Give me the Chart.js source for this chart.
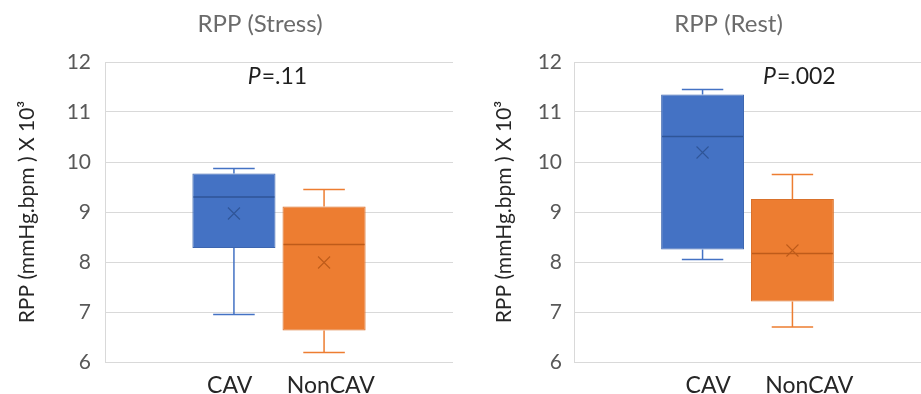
<!DOCTYPE html>
<html>
<head>
<meta charset="utf-8">
<script src="https://cdn.jsdelivr.net/npm/chart.js@4/dist/chart.umd.min.js"></script>
<style>
  html, body { margin: 0; padding: 0; background: #fff; width: 921px; height: 394px; overflow: hidden; }
  .panel { position: absolute; top: 0; height: 394px; }
  #p1 { left: 0; width: 460px; }
  #p2 { left: 460px; width: 461px; }
</style>
</head>
<body>
<div class="panel" id="p1"><canvas id="stress"></canvas></div>
<div class="panel" id="p2"><canvas id="rest"></canvas></div>
<script>
// Groups and axis ticks
const groups = ['CAV', 'NonCAV'];
const yTickValues = [6, 7, 8, 9, 10, 11, 12];
const yTitle = 'RPP (mmHg.bpm ) X 10\u00B3';
const panelTitles = ['RPP (Stress)', 'RPP (Rest)'];
const pValues = ['.11', '.002'];

// Rate-pressure product (x10^3), stress: [CAV, NonCAV]
const stressMin    = [6.95, 6.19];
const stressQ1     = [8.28, 6.63];
const stressMedian = [9.30, 8.35];
const stressQ3     = [9.77, 9.11];
const stressMax    = [9.87, 9.45];
const stressMean   = [8.97, 7.99];

// Rate-pressure product (x10^3), rest: [CAV, NonCAV]
const restMin    = [8.05, 6.70];
const restQ1     = [8.25, 7.21];
const restMedian = [10.51, 8.17];
const restQ3     = [11.35, 9.26];
const restMax    = [11.45, 9.75];
const restMean   = [10.19, 8.23];

const FONT = 'Lato, "Open Sans", sans-serif';
const fills   = ['#4472C4', '#ED7D31'];
const borders = ['#3D66B0', '#D9712B'];
const darks   = ['#2F5597', '#BE5B1A'];

// Whiskers, medians and mean markers on top of the floating-bar boxes
const boxExtras = {
  id: 'boxExtras',
  afterDatasetsDraw(chart, args, opts) {
    const ctx = chart.ctx;
    const y = chart.scales.y;
    const s = opts.stats;
    chart.data.datasets.forEach((ds, i) => {
      const bar = chart.getDatasetMeta(i).data[0];
      const cx = bar.x, w = bar.width;
      const left = cx - w / 2, right = cx + w / 2;
      const cap = w / 4;
      ctx.save();
      ctx.lineWidth = 1.5;
      ctx.strokeStyle = fills[i];
      ctx.beginPath();
      // upper whisker
      ctx.moveTo(cx, y.getPixelForValue(s.q3[i]));
      ctx.lineTo(cx, y.getPixelForValue(s.max[i]));
      ctx.moveTo(cx - cap, y.getPixelForValue(s.max[i]));
      ctx.lineTo(cx + cap, y.getPixelForValue(s.max[i]));
      // lower whisker
      ctx.moveTo(cx, y.getPixelForValue(s.q1[i]));
      ctx.lineTo(cx, y.getPixelForValue(s.min[i]));
      ctx.moveTo(cx - cap, y.getPixelForValue(s.min[i]));
      ctx.lineTo(cx + cap, y.getPixelForValue(s.min[i]));
      ctx.stroke();
      // median
      ctx.strokeStyle = darks[i];
      ctx.lineWidth = 1.5;
      ctx.beginPath();
      const my = y.getPixelForValue(s.median[i]);
      ctx.moveTo(left + 1, my);
      ctx.lineTo(right - 1, my);
      ctx.stroke();
      // mean marker
      const ey = y.getPixelForValue(s.mean[i]);
      const r = 6;
      ctx.lineWidth = 1.1;
      ctx.beginPath();
      ctx.moveTo(cx - r, ey - r); ctx.lineTo(cx + r, ey + r);
      ctx.moveTo(cx - r, ey + r); ctx.lineTo(cx + r, ey - r);
      ctx.stroke();
      ctx.restore();
    });
  }
};

// Panel heading and P value annotation
const panelText = {
  id: 'panelText',
  afterDraw(chart, args, opts) {
    const ctx = chart.ctx;
    const ca = chart.chartArea;
    ctx.save();
    ctx.textBaseline = 'middle';
    ctx.textAlign = 'center';
    ctx.fillStyle = '#6b6b6b';
    ctx.font = '24px ' + FONT;
    ctx.fillText(opts.title, (ca.left + ca.right) / 2 + opts.titleDx, opts.titleY);

    // P value: italic P followed by the value
    const pFont = 'italic 23px ' + FONT;
    const vFont = '23px ' + FONT;
    const rest = '=' + opts.p;
    ctx.font = pFont; const wP = ctx.measureText('P').width;
    ctx.font = vFont; const wR = ctx.measureText(rest).width;
    const cx = ca.left + (ca.right - ca.left) * opts.pX;
    const py = ca.top + (ca.bottom - ca.top) * opts.pY;
    const x0 = cx - (wP + wR) / 2;
    ctx.textAlign = 'left';
    ctx.fillStyle = '#1f1f1f';
    ctx.font = pFont; ctx.fillText('P', x0, py);
    ctx.font = vFont; ctx.fillText(rest, x0 + wP + 1, py);
    ctx.restore();
  }
};

function makeChart(id, s, idx, layout) {
  const datasets = groups.map((g, i) => ({
    label: g,
    data: [[s.q1[i], s.q3[i]]],
    backgroundColor: fills[i],
    borderColor: borders[i],
    borderWidth: 1,
    borderSkipped: false,
    categoryPercentage: 0.518,
    barPercentage: 0.922
  }));
  return new Chart(document.getElementById(id), {
    type: 'bar',
    data: { labels: [groups.join('\u2002'.repeat(3))], datasets },
    options: {
      responsive: true,
      maintainAspectRatio: false,
      animation: false,
      events: [],
      layout: { padding: { left: layout.padLeft, right: layout.padRight, top: 62, bottom: 0 } },
      plugins: {
        legend: { display: false },
        tooltip: { enabled: false },
        boxExtras: { stats: s },
        panelText: {
          title: panelTitles[idx], titleDx: -19, titleY: 24,
          p: pValues[idx], pX: layout.pX, pY: 0.047
        }
      },
      scales: {
        x: {
          grid: { display: false },
          border: { display: false },
          ticks: { color: '#262626', font: { family: FONT, size: 23 }, padding: 2, labelOffset: layout.labelOffset, maxRotation: 0 },
          afterFit(scale) { scale.height = 32; }
        },
        y: {
          min: 6, max: 12,
          afterBuildTicks(scale) { scale.ticks = yTickValues.map(v => ({ value: v })); },
          grid: { color: '#d9d9d9', lineWidth: 1, drawTicks: false },
          border: { display: true, color: '#d9d9d9' },
          ticks: { color: '#595959', font: { family: FONT, size: 21 }, padding: layout.tickPad },
          title: {
            display: true, text: yTitle, color: '#262626',
            font: { family: FONT, size: 21 }, padding: { top: 5, bottom: 0 }
          },
          afterFit(scale) { scale.width = layout.axisWidth; }
        }
      }
    },
    plugins: [boxExtras, panelText]
  });
}

const stressStats = { min: stressMin, q1: stressQ1, median: stressMedian, q3: stressQ3, max: stressMax, mean: stressMean };
const restStats = { min: restMin, q1: restQ1, median: restMedian, q3: restQ3, max: restMax, mean: restMean };

makeChart('stress', stressStats, 0, { padLeft: 10, padRight: 7, axisWidth: 95, tickPad: 14, pX: 0.494, labelOffset: 12 });
makeChart('rest', restStats, 1, { padLeft: 27, padRight: 0, axisWidth: 87, tickPad: 12, pX: 0.648, labelOffset: 22 });
</script>
</body>
</html>
